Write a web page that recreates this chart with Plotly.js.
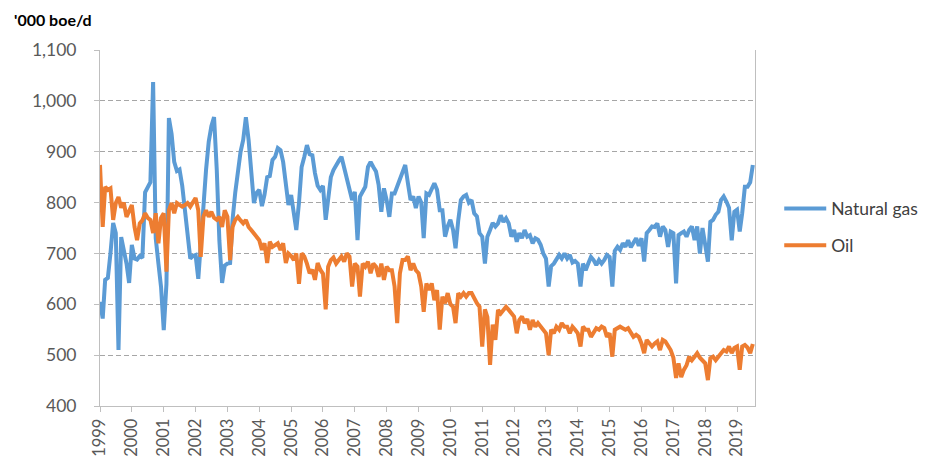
<!DOCTYPE html>
<html>
<head>
<meta charset="utf-8">
<script src="https://cdn.plot.ly/plotly-3.0.1.min.js"></script>
<style>
html,body{margin:0;padding:0;background:#fff;}
#chart{width:926px;height:458px;}
</style>
</head>
<body>
<div id="chart"></div>
<script>
// Monthly data, Jan 1999 onwards ('000 boe/d)
const startYear = 1999;
const gas = [
  605, 572, 648, 652, 700, 760, 740, 510, 732, 710, 680, 642,   // 1999
  717, 690, 688, 695, 691, 820, 831, 840, 1037, 730, 680, 634,  // 2000
  549, 640, 966, 935, 880, 862, 865, 833, 785, 740, 690, 695,   // 2001
  697, 650, 720, 800, 864, 920, 950, 968, 864, 725, 642, 676,   // 2002
  680, 681, 766, 820, 864, 900, 923, 968, 923, 864, 799, 819,   // 2003
  825, 793, 815, 850, 852, 884, 890, 907, 903, 880, 838, 795,   // 2004
  815, 779, 746, 800, 870, 890, 913, 895, 893, 858, 833, 825,   // 2005
  833, 766, 810, 850, 864, 875, 882, 890, 870, 851, 825, 805,   // 2006
  821, 726, 812, 822, 831, 870, 880, 870, 861, 835, 782, 828,   // 2007
  805, 772, 818, 818, 831, 845, 860, 874, 838, 805, 812, 789,   // 2008
  812, 800, 730, 818, 815, 825, 838, 825, 785, 785, 733, 753,   // 2009
  766, 746, 710, 765, 805, 812, 815, 800, 805, 779, 773, 740,   // 2010
  733, 680, 733, 746, 760, 753, 759, 775, 762, 769, 759, 733,   // 2011
  746, 723, 740, 730, 746, 733, 736, 720, 730, 727, 717, 700,   // 2012
  690, 635, 675, 680, 690, 697, 690, 700, 690, 697, 682, 685,   // 2013
  680, 635, 680, 667, 680, 693, 687, 677, 687, 680, 687, 697,   // 2014
  693, 635, 705, 713, 707, 720, 713, 726, 712, 720, 730, 715,   // 2015
  730, 684, 740, 746, 753, 752, 759, 733, 753, 746, 713, 743,   // 2016
  740, 641, 736, 740, 743, 733, 746, 753, 726, 753, 700, 750,   // 2017
  720, 684, 762, 766, 776, 782, 805, 812, 802, 790, 726, 782,   // 2018
  786, 743, 779, 831, 831, 840, 874                             // 2019
];
const oil = [
  874, 752, 831, 825, 828, 766, 799, 811, 790, 800, 772, 785,   // 1999
  795, 752, 726, 759, 765, 779, 770, 766, 740, 779, 720, 770,   // 2000
  779, 664, 785, 799, 779, 799, 795, 792, 795, 799, 792, 800,   // 2001
  809, 785, 693, 772, 785, 772, 782, 770, 766, 772, 752, 785,   // 2002
  772, 687, 752, 766, 772, 765, 759, 766, 752, 746, 740, 733,   // 2003
  726, 707, 720, 681, 723, 713, 716, 720, 707, 720, 681, 700,   // 2004
  695, 687, 700, 640, 700, 694, 680, 661, 668, 648, 681, 668,   // 2005
  660, 590, 674, 687, 692, 680, 687, 694, 684, 700, 694, 635,   // 2006
  680, 674, 615, 680, 674, 684, 661, 680, 674, 654, 680, 648,   // 2007
  674, 667, 667, 635, 563, 661, 687, 687, 694, 667, 680, 667,   // 2008
  661, 635, 585, 641, 628, 641, 608, 628, 550, 615, 602, 622,   // 2009
  600, 595, 563, 622, 615, 622, 615, 622, 622, 610, 602, 595,   // 2010
  517, 590, 575, 481, 560, 530, 589, 582, 589, 595, 589, 582,   // 2011
  576, 543, 569, 576, 563, 571, 550, 569, 556, 563, 556, 550,   // 2012
  543, 500, 550, 543, 556, 550, 563, 556, 556, 543, 556, 550,   // 2013
  543, 517, 556, 550, 550, 536, 543, 553, 550, 556, 553, 536,   // 2014
  543, 497, 550, 553, 556, 553, 550, 553, 543, 536, 540, 536,   // 2015
  523, 504, 530, 523, 517, 523, 527, 510, 530, 527, 517, 510,   // 2016
  495, 455, 484, 457, 471, 480, 497, 490, 497, 504, 495, 490,   // 2017
  484, 451, 494, 497, 490, 497, 504, 510, 507, 517, 504, 514,   // 2018
  517, 471, 517, 520, 515, 504, 522                             // 2019
];
const seriesNames = ['Natural gas', 'Oil'];
const tickYears = ['1999','2000','2001','2002','2003','2004','2005','2006','2007','2008','2009',
                   '2010','2011','2012','2013','2014','2015','2016','2017','2018','2019'];

function monthDates(n) {
  const out = [];
  for (let i = 0; i < n; i++) {
    const y = startYear + Math.floor(i / 12);
    const m = (i % 12) + 1;
    out.push(y + '-' + String(m).padStart(2, '0') + '-01');
  }
  return out;
}
const dates = monthDates(gas.length);

const FONT = 'Lato, "Open Sans", "Liberation Sans", sans-serif';

const traces = [
  {x: dates, y: gas, name: seriesNames[0], type: 'scatter', mode: 'lines', legendgroup: 'g',
   line: {color: '#5B9BD5', width: 4}},
  {x: dates, y: oil, name: seriesNames[1], type: 'scatter', mode: 'lines', legendgroup: 'o',
   line: {color: '#ED7D31', width: 4}}
];

const layout = {
  width: 926, height: 458,
  margin: {l: 100, r: 171, t: 50, b: 52, autoexpand: false},
  paper_bgcolor: '#ffffff', plot_bgcolor: '#ffffff',
  font: {family: FONT, size: 17, color: '#595959'},
  showlegend: true,
  legend: {x: 1.037, y: 0.605, xanchor: 'left', yanchor: 'top',
           font: {family: FONT, size: 17.5, color: '#404040'},
           traceorder: 'grouped', tracegroupgap: 11, itemwidth: 42, bgcolor: 'rgba(0,0,0,0)'},
  xaxis: {
    type: 'date',
    range: ['1999-01-01', '2019-07-26'],
    tickvals: tickYears.map(y => y + '-01-01'),
    ticktext: tickYears,
    tickangle: -90,
    ticks: 'outside', ticklen: 5, tickcolor: '#bfbfbf',
    showline: true, linecolor: '#bfbfbf', linewidth: 1,
    showgrid: false, zeroline: false,
    tickfont: {family: FONT, size: 16.5, color: '#595959'}
  },
  yaxis: {
    range: [400, 1100],
    dtick: 100, tick0: 400,
    tickformat: ',d',
    ticks: 'outside', ticklen: 5, tickcolor: '#bfbfbf',
    ticklabelstandoff: 14,
    showline: true, linecolor: '#bfbfbf', linewidth: 1, mirror: true,
    showgrid: true, gridcolor: '#a6a6a6', griddash: '5px,3px', gridwidth: 1,
    zeroline: false,
    tickfont: {family: FONT, size: 17.5, color: '#595959'}
  },
  annotations: [
    {text: "<b>'000 boe/d</b>", xref: 'paper', yref: 'paper', x: -0.135, y: 1.085,
     xanchor: 'left', yanchor: 'middle', showarrow: false,
     font: {family: FONT, size: 16, color: '#000000'}}
  ]
};

Plotly.newPlot('chart', traces, layout, {displayModeBar: false, staticPlot: true});
</script>
</body>
</html>
